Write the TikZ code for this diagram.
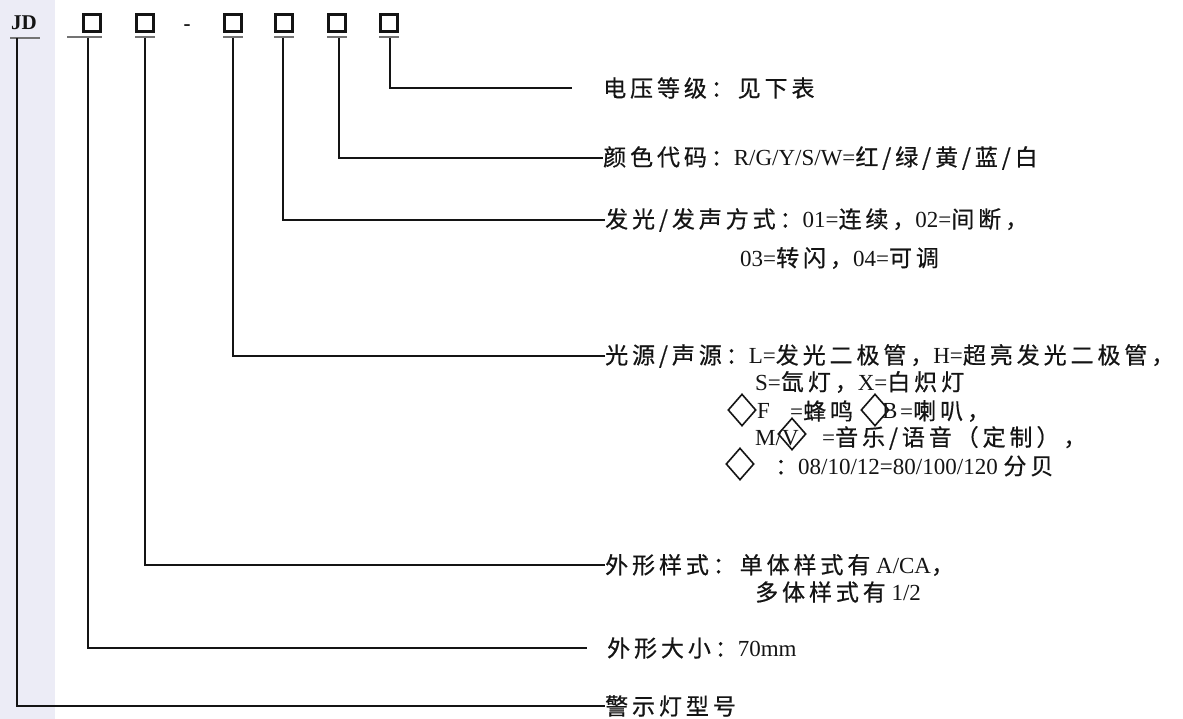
\documentclass[tikz,border=0pt]{standalone}
\usepackage{fontspec}
\setmainfont{Liberation Serif}
\newfontfamily\cjk[LetterSpace=17,FakeBold=0.6]{Noto Sans CJK SC}
\usetikzlibrary{shapes.geometric}
\definecolor{ink}{RGB}{20,20,20}
\definecolor{strip}{RGB}{236,236,246}
\begin{document}
\begin{tikzpicture}[x=1pt,y=-1pt,
  conn/.style={line width=1.4pt, draw=ink},
  codebox/.style={draw=ink, line width=2.6pt, minimum size=16.5pt, inner sep=0pt},
  uline/.style={line width=1.2pt, draw=black!55},
  lbl/.style={anchor=west, inner sep=0pt, font=\fontsize{23}{26}\selectfont, text=ink},
  dia/.style={draw=ink, diamond, line width=1.6pt, minimum width=28pt, minimum height=32pt, inner sep=0pt}]
\useasboundingbox (0,0) rectangle (1183,719);
\fill[strip] (0,0) rectangle (55,719);
% header
\node[lbl, anchor=center, font=\bfseries\fontsize{21}{24}\selectfont] (jd) at (24,23) {JD};
\node[codebox] (b1) at (92,23) {};
\node[codebox] (b2) at (145,23) {};
\node[lbl, anchor=center, font=\bfseries\fontsize{21}{24}\selectfont] (dash) at (187,28) {-};
\node[codebox] (b3) at (233,23) {};
\node[codebox] (b4) at (284,23) {};
\node[codebox] (b5) at (337,23) {};
\node[codebox] (b6) at (389,23) {};
\draw[uline] (10,38) -- (40,38);
\draw[uline] (67,37) -- (102,37);
\foreach \x in {145,233,284,337,389} \draw[uline] (\x-10,37) -- (\x+10,37);
\coordinate (u0) at (17,38);
\coordinate (u1) at (88,38);
\coordinate (u2) at (145,38);
\coordinate (u3) at (233,38);
\coordinate (u4) at (283,38);
\coordinate (u5) at (339,38);
\coordinate (u6) at (390,38);
% labels
\node[lbl] (t1) at (603,88) {{\cjk 电压等级：见下表}};
\node[lbl] (t2) at (603,158) {{\cjk 颜色代码：}R/G/Y/S/W={\cjk 红/绿/黄/蓝/白}};
\node[lbl] (t3) at (605,220) {{\cjk 发光/发声方式：}01={\cjk 连续，}02={\cjk 间断，}};
\node[lbl] (t3b) at (740,258) {03={\cjk 转闪，}04={\cjk 可调}};
\node[lbl] (t4) at (605,356) {{\cjk 光源/声源：}L={\cjk 发光二极管，}H={\cjk 超亮发光二极管，}};
\node[lbl] (t4b) at (755,382) {S={\cjk 氙灯，}X={\cjk 白炽灯}};
\node[dia] (d1) at (742,410) {};
\node[lbl] (f1) at (757,411) {F};
\node[lbl] (t4c) at (790,411) {={\cjk 蜂鸣}};
\node[dia] (d2) at (875,410) {};
\node[lbl] (f2) at (882,411) {B};
\node[lbl] (t4d) at (900,411) {={\cjk 喇叭，}};
\node[lbl] (f3) at (755,438) {M/V};
\node[dia] (d3) at (792,434) {};
\node[lbl] (t4e) at (822,438) {={\cjk 音乐/语音（定制），}};
\node[dia] (d4) at (740,464) {};
\node[lbl] (t4f) at (775,466) {{\cjk ：}08/10/12=80/100/120 {\cjk 分贝}};
\node[lbl] (t5) at (605,565) {{\cjk 外形样式：单体样式有} A/CA{\cjk ，}};
\node[lbl] (t5b) at (755,592) {{\cjk 多体样式有} 1/2};
\node[lbl] (t6) at (607,648) {{\cjk 外形大小：}70mm};
\node[lbl] (t7) at (605,706) {{\cjk 警示灯型号}};
% connectors
\draw[conn] (u6) |- ([xshift=-31pt]t1.west);
\draw[conn] (u5) |- (t2.west);
\draw[conn] (u4) |- (t3.west);
\draw[conn] (u3) |- (t4.west);
\draw[conn] (u2) |- (t5.west);
\draw[conn] (u1) |- ([xshift=-20pt]t6.west);
\draw[conn] (u0) |- (t7.west);
\end{tikzpicture}
\end{document}
